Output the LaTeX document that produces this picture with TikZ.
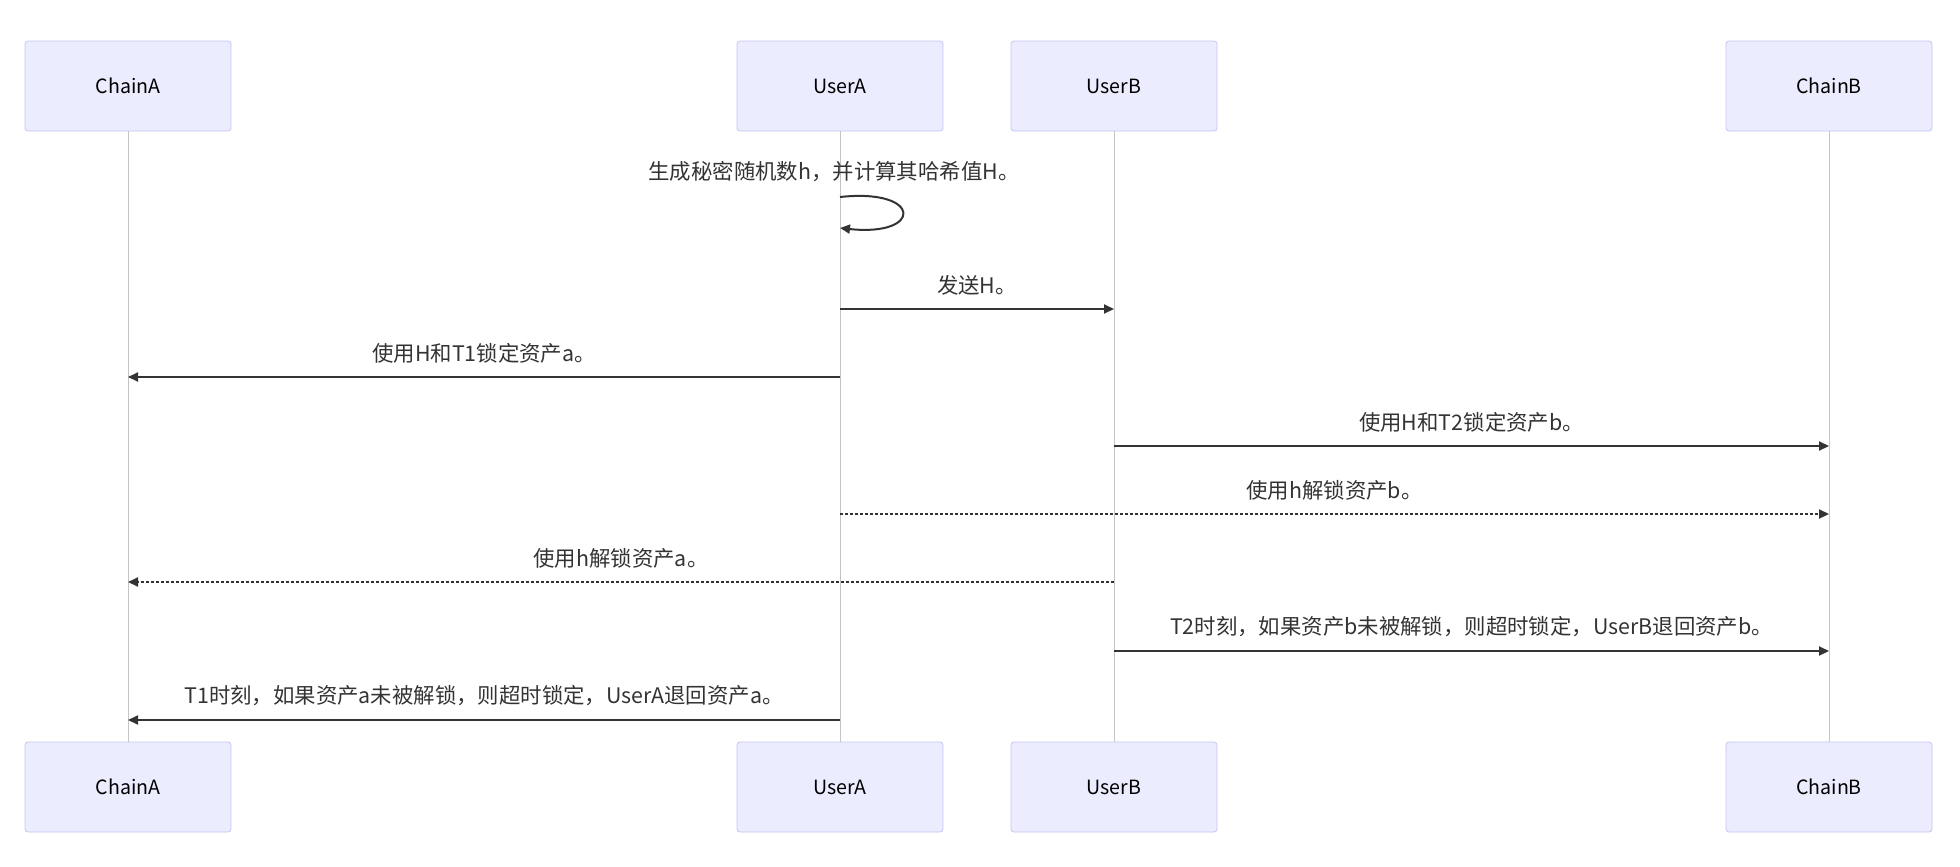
\documentclass[tikz,border=0pt]{standalone}
\usepackage{fontspec}
\setmainfont{Noto Sans CJK SC}
\usetikzlibrary{positioning, arrows.meta}
\definecolor{actorfill}{HTML}{ECECFF}
\definecolor{actorline}{HTML}{C6C3F2}
\definecolor{lifecol}{HTML}{C4C4C4}
\definecolor{msgcol}{HTML}{333333}

\begin{document}
\begin{tikzpicture}[x=0.5pt, y=-0.5pt, >={Triangle[length=5pt,width=4.5pt]}]
    \tikzstyle{actor} = [draw=actorline, fill=actorfill, rounded corners=1.5pt, minimum width=103pt, minimum height=45pt, font=\fontsize{9.8}{12}\selectfont, text=black]
    \tikzstyle{life} = [draw=lifecol, line width=0.5pt]
    \tikzstyle{msg} = [->, draw=msgcol, line width=1pt]
    \tikzstyle{reply} = [msg, dash pattern=on 1.5pt off 1pt]
    \tikzstyle{lbl} = [above=6.5pt, inner sep=0pt, font=\fontsize{10.7}{13}\selectfont, text=msgcol]

    \useasboundingbox (0,0) rectangle (1960,867);

    % actors, top and bottom
    \node[actor] (ca) at (128,86) {ChainA};
    \node[actor] (ua) at (840,86) {UserA};
    \node[actor] (ub) at (1114,86) {UserB};
    \node[actor] (cb) at (1829,86) {ChainB};

    \node[actor] (ca2) at (128,787) {ChainA};
    \node[actor] (ua2) at (840,787) {UserA};
    \node[actor] (ub2) at (1114,787) {UserB};
    \node[actor] (cb2) at (1829,787) {ChainB};

    \draw[life] (ca) -- (ca2);
    \draw[life] (ua) -- (ua2);
    \draw[life] (ub) -- (ub2);
    \draw[life] (cb) -- (cb2);

    % messages
    \node[font=\fontsize{10.7}{13}\selectfont, text=msgcol] (self) at (834,172) {生成秘密随机数h，并计算其哈希值H。};
    \draw[msg] (ua |- 0,197) .. controls (923,188) and (923,237) .. (ua |- 0,228);

    \draw[msg] (ua |- 0,309) -- node[lbl] (m1) {发送H。} (ub |- 0,309);
    \draw[msg] (ua |- 0,377) -- node[lbl] (m2) {使用H和T1锁定资产a。} (ca |- 0,377);
    \draw[msg] (ub |- 0,446) -- node[lbl] (m3) {使用H和T2锁定资产b。} (cb |- 0,446);
    \draw[reply] (ua |- 0,514) -- node[lbl] (m4) {使用h解锁资产b。} (cb |- 0,514);
    \draw[reply] (ub |- 0,582) -- node[lbl] (m5) {使用h解锁资产a。} (ca |- 0,582);
    \draw[msg] (ub |- 0,651) -- node[lbl] (m6) {T2时刻，如果资产b未被解锁，则超时锁定，UserB退回资产b。} (cb |- 0,651);
    \draw[msg] (ua |- 0,720) -- node[lbl] (m7) {T1时刻，如果资产a未被解锁，则超时锁定，UserA退回资产a。} (ca |- 0,720);
\end{tikzpicture}
\end{document}
